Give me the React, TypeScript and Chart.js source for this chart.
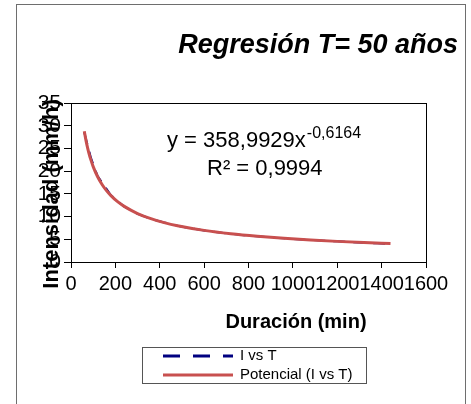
import React, { useEffect, useRef } from "react";
import { Chart, registerables } from "chart.js";

Chart.register(...registerables);

// Observed data: I vs T
const durations = [60, 90, 120, 180, 240, 300, 360, 420, 480, 540, 600, 660, 720, 780, 840, 900, 960, 1020, 1080, 1140, 1200, 1260, 1320, 1380, 1440];
const intensity = [28.5, 22.9, 18.9, 14.7, 12.2, 10.6, 9.5, 8.7, 8.0, 7.4, 6.95, 6.55, 6.2, 5.9, 5.65, 5.4, 5.2, 5.0, 4.85, 4.7, 4.55, 4.4, 4.25, 4.1, 3.95];

// Power trendline (Potencial)
const trendDurations = [60, 70, 80, 90, 100, 120, 140, 160, 180, 210, 240, 300, 360, 420, 480, 600, 720, 840, 960, 1080, 1200, 1320, 1440];
const trendIntensity = [28.76, 26.16, 24.1, 22.42, 21.0, 18.76, 17.07, 15.72, 14.62, 13.29, 12.24, 10.67, 9.54, 8.67, 7.98, 6.96, 6.22, 5.66, 5.21, 4.85, 4.54, 4.28, 4.06];

const xTicks = [0, 200, 400, 600, 800, 1000, 1200, 1400, 1600];
const yTicks = [0, 5, 10, 15, 20, 25, 30, 35];

const chartTitle = "Regresión T= 50 años";
const xTitle = "Duración (min)";
const yTitle = "Intensidad (mm/h)";
const equationMain = "y = 358,9929x";
const equationExp = "-0,6164";
const rSquared = "R² = 0,9994";
const seriesNames = ["I vs T", "Potencial (I vs T)"];

const FONT = "'Liberation Sans', Arial, Helvetica, sans-serif";
const NAVY = "#000080";
const RED = "#C8504F";

const decorPlugin = {
  id: "decor",
  afterDraw(chart: any) {
    const ctx = chart.ctx as CanvasRenderingContext2D;
    const a = chart.chartArea;
    ctx.save();
    // outer frame
    ctx.strokeStyle = "#6e6e6e";
    ctx.lineWidth = 1;
    ctx.strokeRect(16.5, 4.5, 449, 440);
    // plot frame
    ctx.strokeStyle = "#000";
    ctx.strokeRect(Math.round(a.left) + 0.5, Math.round(a.top) + 0.5, Math.round(a.right - a.left), Math.round(a.bottom - a.top));

    ctx.fillStyle = "#000";
    // title
    ctx.font = `italic bold 27px ${FONT}`;
    ctx.textAlign = "right";
    ctx.textBaseline = "alphabetic";
    ctx.fillText(chartTitle, 458, 53);

    // equation
    ctx.textAlign = "left";
    ctx.font = `22px ${FONT}`;
    ctx.fillText(equationMain, 167, 147);
    const w = ctx.measureText(equationMain).width;
    ctx.font = `16px ${FONT}`;
    ctx.fillText(equationExp, 167 + w + 1, 138);
    ctx.font = `22px ${FONT}`;
    ctx.fillText(rSquared, 207, 175);

    // x title
    ctx.font = `bold 20px ${FONT}`;
    ctx.textAlign = "center";
    ctx.fillText(xTitle, 296, 328);

    // y title
    ctx.save();
    ctx.translate(58, 194);
    ctx.rotate(-Math.PI / 2);
    ctx.font = `bold 22px ${FONT}`;
    ctx.textAlign = "center";
    ctx.textBaseline = "alphabetic";
    ctx.fillText(yTitle, 0, 0);
    ctx.restore();

    // legend
    ctx.strokeStyle = "#555";
    ctx.lineWidth = 1;
    ctx.strokeRect(142.5, 347.5, 224, 36);
    ctx.lineWidth = 3;
    ctx.strokeStyle = NAVY;
    ctx.setLineDash([17, 13]);
    ctx.beginPath();
    ctx.moveTo(163, 356);
    ctx.lineTo(233, 356);
    ctx.stroke();
    ctx.setLineDash([]);
    ctx.strokeStyle = RED;
    ctx.beginPath();
    ctx.moveTo(163, 375);
    ctx.lineTo(233, 375);
    ctx.stroke();
    ctx.fillStyle = "#000";
    ctx.font = `15px ${FONT}`;
    ctx.textAlign = "left";
    ctx.textBaseline = "middle";
    ctx.fillText(seriesNames[0], 240, 356);
    ctx.fillText(seriesNames[1], 240, 375);
    ctx.restore();
  },
};

export default function App() {
  const ref = useRef<HTMLCanvasElement>(null);
  useEffect(() => {
    if (!ref.current) return;
    const chart = new Chart(ref.current, {
      type: "line",
      data: {
        datasets: [
          {
            label: seriesNames[0],
            data: durations.map((d, i) => ({ x: d, y: intensity[i] })),
            borderColor: NAVY,
            borderWidth: 2,
            borderDash: [12, 8],
            pointRadius: 0,
            fill: false,
            order: 2,
          },
          {
            label: seriesNames[1],
            data: trendDurations.map((d, i) => ({ x: d, y: trendIntensity[i] })),
            borderColor: RED,
            borderWidth: 3,
            pointRadius: 0,
            fill: false,
            cubicInterpolationMode: "monotone",
            order: 1,
          },
        ],
      },
      options: {
        animation: false,
        responsive: true,
        maintainAspectRatio: false,
        layout: { padding: { left: 0, top: 103, right: 45, bottom: 0 } },
        plugins: {
          legend: { display: false },
          title: { display: false },
          tooltip: { enabled: false },
        },
        scales: {
          x: {
            type: "linear",
            min: 0,
            max: 1600,
            afterBuildTicks: (s: any) => {
              s.ticks = xTicks.map((v) => ({ value: v }));
            },
            afterFit: (s: any) => {
              s.height = 142;
            },
            grid: { display: true, drawOnChartArea: false, drawTicks: true, tickLength: 6, color: "#000" },
            border: { display: true, color: "#000" },
            ticks: {
              color: "#000",
              font: { family: FONT, size: 20 },
              autoSkip: false,
              maxRotation: 0,
              minRotation: 0,
              padding: 4,
              callback: (v: any) => String(v),
            },
          },
          y: {
            type: "linear",
            min: 0,
            max: 35,
            afterBuildTicks: (s: any) => {
              s.ticks = yTicks.map((v) => ({ value: v }));
            },
            afterFit: (s: any) => {
              s.width = 71;
            },
            grid: { display: true, drawOnChartArea: false, drawTicks: true, tickLength: 7, color: "#000" },
            border: { display: true, color: "#000" },
            ticks: {
              color: "#000",
              font: { family: FONT, size: 21 },
              autoSkip: false,
              padding: 3,
              callback: (v: any) => String(v),
            },
          },
        },
      },
      plugins: [decorPlugin],
    } as any);
    return () => chart.destroy();
  }, []);
  return (
    <div style={{ position: "fixed", left: 0, top: 0, width: 471, height: 404, background: "#fff" }}>
      <canvas ref={ref} />
    </div>
  );
}
